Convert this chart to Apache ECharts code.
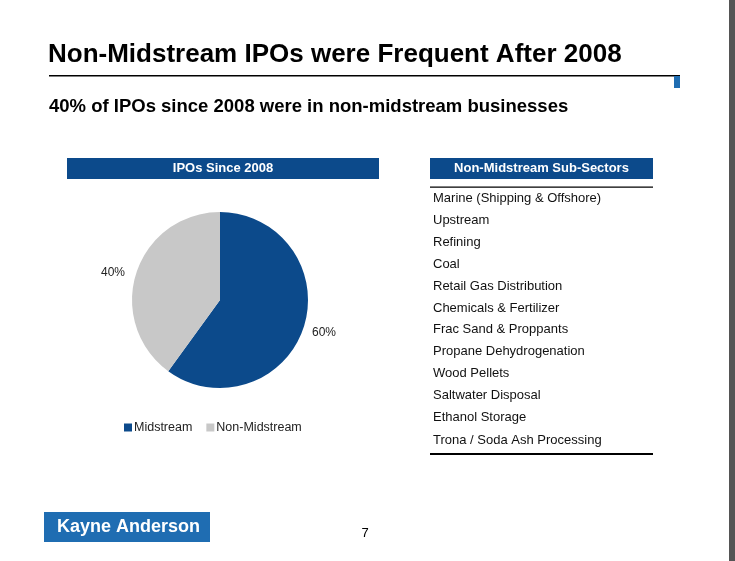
<!DOCTYPE html>
<html>
<head>
<meta charset="utf-8">
<script src="https://cdn.jsdelivr.net/npm/echarts@6/dist/echarts.min.js"></script>
<style>
html,body{margin:0;padding:0;background:#fff;}
#chart{width:735px;height:561px;}
</style>
</head>
<body>
<div id="chart"></div>
<script>
var titleText = 'Non-Midstream IPOs were Frequent After 2008';
var subtitleText = '40% of IPOs since 2008 were in non-midstream businesses';
var pieHeader = 'IPOs Since 2008';
var listHeader = 'Non-Midstream Sub-Sectors';
var categories = ['Midstream', 'Non-Midstream'];
var shares = [60, 40];
var subSectors = [
  'Marine (Shipping & Offshore)', 'Upstream', 'Refining', 'Coal',
  'Retail Gas Distribution', 'Chemicals & Fertilizer', 'Frac Sand & Proppants',
  'Propane Dehydrogenation', 'Wood Pellets', 'Saltwater Disposal',
  'Ethanol Storage', 'Trona / Soda Ash Processing'
];
var footerBrand = 'Kayne Anderson';
var pageNumber = '7';

var FONT = '"Liberation Sans", Arial, sans-serif';
var DARK_BLUE = '#0C4A8B';
var GREY = '#C8C8C8';

var graphics = [
  {type:'text', x:48, y:55, style:{text:titleText, font:'bold 26px ' + FONT, fill:'#000', textVerticalAlign:'middle'}},
  {type:'rect', shape:{x:49, y:75, width:631, height:1.5}, style:{fill:'#000'}},
  {type:'rect', shape:{x:674, y:76, width:6, height:12}, style:{fill:'#1F6DB2'}},
  {type:'text', x:49, y:107, style:{text:subtitleText, font:'bold 18.5px ' + FONT, fill:'#000', textVerticalAlign:'middle'}},
  {type:'rect', shape:{x:67, y:158, width:312, height:21}, style:{fill:DARK_BLUE}},
  {type:'text', x:223, y:168.5, style:{text:pieHeader, font:'bold 13px ' + FONT, fill:'#fff', textAlign:'center', textVerticalAlign:'middle'}},
  {type:'rect', shape:{x:430, y:158, width:223, height:21}, style:{fill:DARK_BLUE}},
  {type:'text', x:541.5, y:168.5, style:{text:listHeader, font:'bold 13px ' + FONT, fill:'#fff', textAlign:'center', textVerticalAlign:'middle'}},
  {type:'rect', shape:{x:430, y:186.5, width:223, height:1.2}, style:{fill:'#000'}},
  {type:'rect', shape:{x:430, y:453, width:223, height:2}, style:{fill:'#000'}},
  {type:'rect', shape:{x:44, y:512, width:166, height:30}, style:{fill:'#1F6DB2'}},
  {type:'text', x:57, y:527, style:{text:footerBrand, font:'bold 18px ' + FONT, fill:'#fff', textVerticalAlign:'middle'}},
  {type:'text', x:365, y:533, style:{text:pageNumber, font:'13px ' + FONT, fill:'#000', textAlign:'center', textVerticalAlign:'middle'}},
  {type:'rect', shape:{x:729, y:0, width:6, height:561}, style:{fill:'#555'}}
];
subSectors.forEach(function (s, i) {
  graphics.push({type:'text', x:433, y:198.5 + i * 21.9 + (i === subSectors.length - 1 ? 1.5 : 0),
    style:{text:s, font:'13px ' + FONT, fill:'#111', textVerticalAlign:'middle'}});
});

var chart = echarts.init(document.getElementById('chart'), null, {renderer:'canvas'});
chart.setOption({
  animation:false,
  backgroundColor:'#fff',
  color:[DARK_BLUE, GREY],
  legend:{
    data:categories, left:124, top:421, padding:0, icon:'rect', itemWidth:8, itemHeight:8, itemGap:14,
    textStyle:{fontFamily:FONT, fontSize:12.5, color:'#222', padding:[0,0,0,-3]}
  },
  series:[{
    type:'pie', center:[220, 300], radius:88, startAngle:90, clockwise:true,
    data:categories.map(function (c, i) { return {name:c, value:shares[i]}; }),
    label:{show:true, position:'outside', formatter:'{d}%', fontFamily:FONT, fontSize:12, color:'#222'},
    labelLine:{show:false, length:14, length2:0},
    labelLayout:function (p) {
      return p.labelRect.x > 220 ? {dx:-10, dy:1} : {dx:7, dy:4};
    },
    itemStyle:{borderWidth:0},
    emphasis:{disabled:true}
  }],
  graphic:graphics
});
</script>
</body>
</html>
